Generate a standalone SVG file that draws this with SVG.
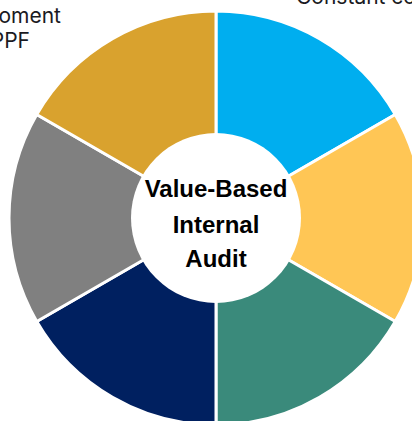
<svg xmlns="http://www.w3.org/2000/svg" width="412" height="421" viewBox="0 0 412 421">
  <style>
    .seg { stroke: #ffffff; stroke-width: 3; stroke-linejoin: miter; }
    .hub { fill: #ffffff; }
    .title { font-family: "Liberation Sans", Arial, sans-serif; font-weight: bold; font-size: 24px; fill: #000000; text-anchor: middle; }
    .label { font-family: Inter, "Open Sans", "Liberation Sans", sans-serif; font-size: 21px; fill: #1a1a22; }
  </style>

  <rect width="412" height="421" fill="#ffffff"/>

  <!-- outer labels (partly outside the canvas) -->
  <g id="label-left">
    <text class="label" x="61" y="23" text-anchor="end">oment</text>
    <text class="label" x="30" y="48" text-anchor="end">PPF</text>
  </g>
  <g id="label-right">
    <text class="label" x="296" y="4">Constant co</text>
  </g>

  <!-- ring segments, centre (216,218), radius 207 -->
  <g id="segment-blue">
    <path class="seg" fill="#00AEEF" d="M216 218 L216 11 A207 207 0 0 1 395.27 114.5 Z"/>
  </g>
  <g id="segment-yellow">
    <path class="seg" fill="#FFC655" d="M216 218 L395.27 114.5 A207 207 0 0 1 395.27 321.5 Z"/>
  </g>
  <g id="segment-teal">
    <path class="seg" fill="#3A8A7B" d="M216 218 L395.27 321.5 A207 207 0 0 1 216 425 Z"/>
  </g>
  <g id="segment-navy">
    <path class="seg" fill="#002060" d="M216 218 L216 425 A207 207 0 0 1 36.73 321.5 Z"/>
  </g>
  <g id="segment-gray">
    <path class="seg" fill="#808080" d="M216 218 L36.73 321.5 A207 207 0 0 1 36.73 114.5 Z"/>
  </g>
  <g id="segment-gold">
    <path class="seg" fill="#D9A22E" d="M216 218 L36.73 114.5 A207 207 0 0 1 216 11 Z"/>
  </g>

  <!-- no connectors in this diagram -->
  <g id="connectors"></g>

  <!-- central hub -->
  <g id="hub">
    <circle class="hub" cx="216" cy="218" r="85"/>
    <text class="title" x="216" y="197">Value-Based</text>
    <text class="title" x="216" y="233">Internal</text>
    <text class="title" x="216" y="267">Audit</text>
  </g>
</svg>
